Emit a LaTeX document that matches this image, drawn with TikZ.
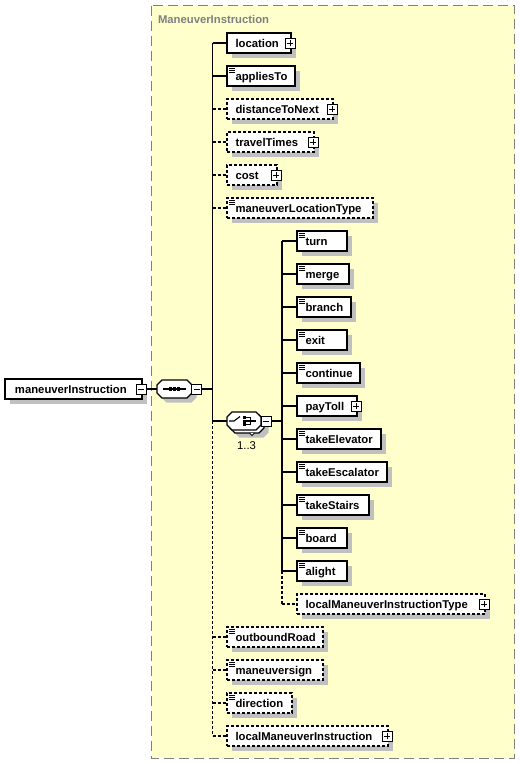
\documentclass[tikz,border=0pt]{standalone}
\usepackage{fontspec}
\setmainfont{Liberation Sans}
\definecolor{bgyellow}{RGB}{255,255,204}
\definecolor{shgray}{RGB}{192,192,192}
\definecolor{ttlgray}{RGB}{128,128,128}
\tikzset{
  ebox/.style={draw=black, fill=white, line width=1.1pt, inner sep=0pt, outer sep=0pt, minimum height=20pt},
  optbox/.style={ebox, dash pattern=on 3pt off 2pt},
  lbl/.style={inner sep=0pt, font=\bfseries\fontsize{11.3}{13}\selectfont},
  conn/.style={line width=1.1pt},
  optconn/.style={line width=1.1pt, dash pattern=on 3pt off 2pt},
  pm/.style={draw=black, fill=white, line width=0.9pt, inner sep=0pt, outer sep=0pt, minimum size=10pt},
  ghost/.style={inner sep=0pt, outer sep=0pt},
}
% element: name, style, xl, y, xr, text
\newcommand\xel[6]{%
  \fill[shgray] (#3+4.5,#4-5.5) rectangle (#5+4.5,#4+14.5);
  \node[#2, anchor=west, minimum width=#5-#3] (#1) at (#3,#4) {};
  \node[lbl, anchor=base west] (#1-t) at (#3+8,#4+4) {#6};
}
% simple-type mark
\newcommand\smk[1]{%
  \foreach \k in {2,4,6} \draw[line width=0.9pt] ([shift={(2,\k)}]#1.north west) -- ++(6,0);
}
% plus box at right edge
\newcommand\pls[1]{%
  \node[pm] (#1-p) at ([xshift=-1pt]#1.east) {};
  \draw[line width=0.9pt] ([xshift=-3pt]#1-p.center) -- ([xshift=3pt]#1-p.center)
        ([yshift=-3pt]#1-p.center) -- ([yshift=3pt]#1-p.center);
}
% minus box: name, position
\newcommand\mns[2]{%
  \node[pm] (#1) at (#2) {};
  \draw[line width=0.9pt] ([xshift=-3pt]#1.center) -- ([xshift=3pt]#1.center);
}
% octagon path: x1,y1,x2,y2,cut
\newcommand\octo[5]{(#1+#5,#2) -- (#3-#5,#2) -- (#3,#2+#5) -- (#3,#4-#5) -- (#3-#5,#4) -- (#1+#5,#4) -- (#1,#4-#5) -- (#1,#2+#5) -- cycle}
\begin{document}
\begin{tikzpicture}[x=1pt, y=-1pt, line width=1pt]
\useasboundingbox (0,0) rectangle (520,764);
\fill[white] (0,0) rectangle (520,764);
% background complex type
\draw[ttlgray, fill=bgyellow, line width=1pt, dash pattern=on 10pt off 5pt] (151.5,5.5) rectangle (514.5,758);
\node[lbl, text=ttlgray, anchor=base west] (title) at (157.5,23) {ManeuverInstruction};

% main element
\fill[shgray] (9.5,383.5) rectangle (146.5,403.5);
\node[ebox, anchor=west, minimum width=137] (mi) at (5,389) {};
\node[lbl, anchor=base west] (mi-t) at (14.5,393) {maneuverInstruction};
\mns{mim}{141,389}

% sequence compositor
\fill[shgray] \octo{161.5}{384.5}{196.5}{402.5}{5};
\draw[fill=white, line width=1.1pt] \octo{157}{380}{192}{398}{5};
\node[ghost, minimum width=35pt, minimum height=18pt] (seq) at (174.5,389) {};
\draw[line width=1.1pt] (163,389) -- (186,389);
\foreach \dx in {170.8,174.5,178.2} \fill (\dx-1.6,387.4) rectangle (\dx+1.6,390.6);
\mns{seqm}{196.5,389}
\draw[conn] (mim.east) -- (seq.west);
\coordinate (sq) at (212.5,389);
\draw[conn] (seqm.east) -- (sq);

% choice compositor (1..3)
\fill[shgray] \octo{234.5}{419.5}{268.5}{437.5}{5};
\draw[fill=white, line width=1.1pt] \octo{230}{415}{264}{433}{5};
\draw[fill=white, line width=0.8pt] (249.5,433) -- (252,435.5) -- (254.5,433);
\draw[fill=white, line width=1.1pt] \octo{227}{412}{261}{430}{5};
\node[ghost, minimum width=34pt, minimum height=18pt] (chc) at (244,421) {};
\draw[line width=1.1pt] (229,421) -- (234,421) -- (240,416.5);
\foreach \dy in {417.4,421,424.6} \fill (242.5,\dy-1.5) rectangle (245.5,\dy+1.5);
\draw[line width=1.1pt] (245,417.4) -- (250.7,417.4) -- (250.7,424.6) -- (245,424.6);
\draw[line width=1.1pt] (245,421) -- (256,421);
\mns{chcm}{266,421}
\node[inner sep=0pt, anchor=base, font=\fontsize{11.3}{13}\selectfont] (mult) at (246.5,449) {1..3};
\coordinate (ct) at (282,421);
\draw[conn] (chcm.east) -- (ct);

% sequence children
\xel{location}{ebox}{227}{43}{291}{location}\pls{location}
\xel{appliesTo}{ebox}{227}{76}{295}{appliesTo}\smk{appliesTo}
\xel{dtn}{optbox}{227}{109}{333}{distanceToNext}\pls{dtn}
\xel{tt}{optbox}{227}{142}{314}{travelTimes}\pls{tt}
\xel{cost}{optbox}{227}{175}{277}{cost}\pls{cost}
\xel{mlt}{optbox}{227}{208}{373}{maneuverLocationType}\smk{mlt}
\xel{obr}{optbox}{227}{637}{323}{outboundRoad}\smk{obr}
\xel{msg}{optbox}{227}{670}{323}{maneuversign}\smk{msg}
\xel{dir}{optbox}{227}{703}{292}{direction}\smk{dir}
\xel{lmi}{optbox}{227}{736}{388}{localManeuverInstruction}\pls{lmi}

% choice children
\xel{turn}{ebox}{297}{241}{347}{turn}\smk{turn}
\xel{merge}{ebox}{297}{274}{349}{merge}\smk{merge}
\xel{branch}{ebox}{297}{307}{351}{branch}\smk{branch}
\xel{exit}{ebox}{297}{340}{347}{exit}\smk{exit}
\xel{cont}{ebox}{297}{373}{360}{continue}\smk{cont}
\xel{payToll}{ebox}{297}{406}{357}{payToll}\pls{payToll}
\xel{tel}{ebox}{297}{439}{381}{takeElevator}\smk{tel}
\xel{tes}{ebox}{297}{472}{387}{takeEscalator}\smk{tes}
\xel{tst}{ebox}{297}{505}{369}{takeStairs}\smk{tst}
\xel{board}{ebox}{297}{538}{347}{board}\smk{board}
\xel{alight}{ebox}{297}{571}{347}{alight}\smk{alight}
\xel{lmit}{optbox}{297}{604}{485}{localManeuverInstructionType}\pls{lmit}

% sequence trunk and connectors
\draw[conn] (sq |- location.west) -- (sq |- chc.west);
\draw[optconn] (sq |- chc.west) -- (sq |- lmi.west);
\draw[conn] (sq |- chc.west) -- (chc.west);
\foreach \n in {location,appliesTo} \draw[conn] (sq |- \n.west) -- (\n.west);
\foreach \n in {dtn,tt,cost,mlt,obr,msg,dir,lmi} \draw[optconn] (sq |- \n.west) -- (\n.west);

% choice trunk and connectors
\draw[conn] (ct |- turn.west) -- (ct |- alight.west);
\draw[optconn] (ct |- alight.west) -- (ct |- lmit.west);
\foreach \n in {turn,merge,branch,exit,cont,payToll,tel,tes,tst,board,alight} \draw[conn] (ct |- \n.west) -- (\n.west);
\draw[optconn] (ct |- lmit.west) -- (lmit.west);
\end{tikzpicture}
\end{document}
